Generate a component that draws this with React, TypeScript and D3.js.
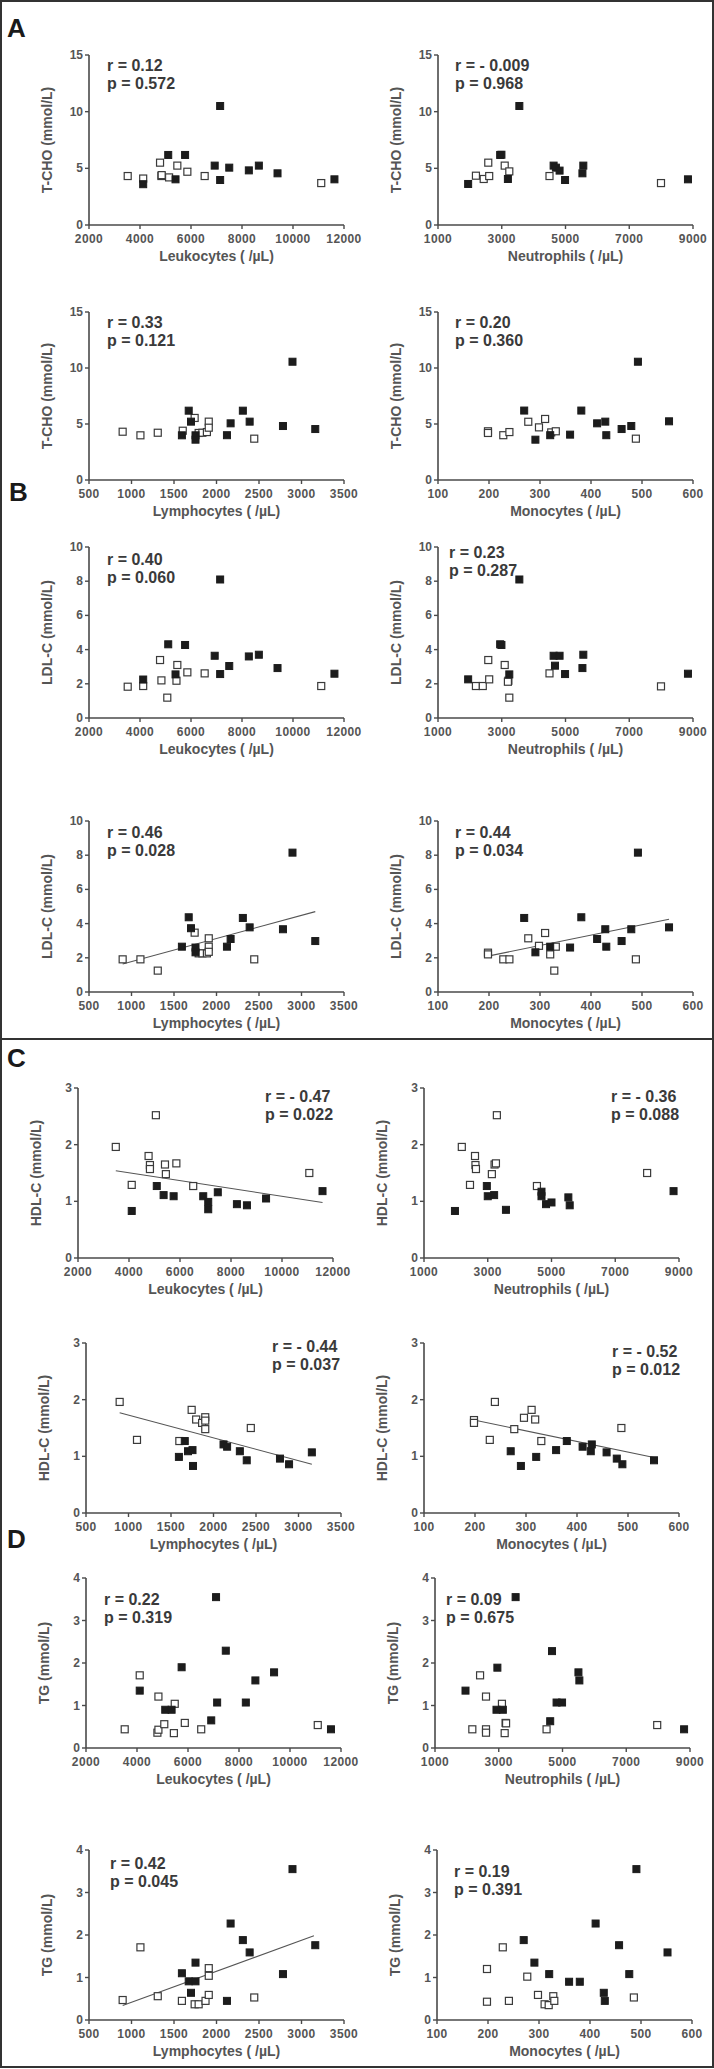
import React from "react";
import * as d3 from "d3";

// ---------- tick values ----------
const leukTicks = [2000, 4000, 6000, 8000, 10000, 12000];
const neutTicks = [1000, 3000, 5000, 7000, 9000];
const lymphTicks = [500, 1000, 1500, 2000, 2500, 3000, 3500];
const monoTicks = [100, 200, 300, 400, 500, 600];
const tchoTicks = [0, 5, 10, 15];
const ldlTicks = [0, 2, 4, 6, 8, 10];
const hdlTicks = [0, 1, 2, 3];
const tgTicks = [0, 1, 2, 3, 4];

// ---------- points: [x, y, filled(1) / open(0)] ----------
const tchoLeuk = [
  [3518, 4.32, 0], [4125, 4.1, 0], [4786, 5.5, 0], [4840, 4.32, 0], [5140, 4.2, 0], [5464, 5.24, 0],
  [5857, 4.7, 0], [6536, 4.32, 0], [11107, 3.7, 0], [4850, 4.4, 0],
  [4125, 3.6, 1], [5107, 6.18, 1], [5393, 4.03, 1], [5768, 6.18, 1], [6929, 5.24, 1], [7143, 10.5, 1],
  [7143, 3.97, 1], [7500, 5.06, 1], [8268, 4.82, 1], [8661, 5.24, 1], [9393, 4.56, 1], [11625, 4.03, 1],
];
const tchoNeut = [
  [2190, 4.35, 0], [2434, 4.06, 0], [2577, 5.5, 0], [2606, 4.32, 0], [3093, 5.24, 0], [3237, 4.73, 0],
  [4498, 4.32, 0], [7996, 3.7, 0],
  [1946, 3.62, 1], [2950, 6.18, 1], [2990, 6.2, 1], [3193, 4.06, 1], [3552, 10.5, 1], [4627, 5.24, 1],
  [4699, 5.06, 1], [4814, 4.8, 1], [4986, 3.97, 1], [5531, 4.56, 1], [5559, 5.24, 1], [8842, 4.03, 1],
];
const tchoLymph = [
  [896, 4.31, 0], [1105, 3.99, 0], [1309, 4.22, 0], [1603, 4.4, 0], [1743, 5.54, 0], [1790, 4.2, 0],
  [1834, 4.22, 0], [1887, 4.28, 0], [1909, 5.21, 0], [1909, 4.67, 0], [2444, 3.69, 0],
  [1593, 3.99, 1], [1673, 6.19, 1], [1700, 5.21, 1], [1753, 3.99, 1], [1753, 3.6, 1], [2123, 4.0, 1],
  [2166, 5.06, 1], [2310, 6.19, 1], [2390, 5.21, 1], [2782, 4.82, 1], [2894, 10.56, 1], [3162, 4.55, 1],
];
const tchoMono = [
  [198, 4.35, 0], [198, 4.2, 0], [228, 4.0, 0], [240, 4.28, 0], [277, 5.2, 0], [298, 4.7, 0],
  [310, 5.45, 0], [322, 4.25, 0], [331, 4.35, 0], [488, 3.69, 0],
  [269, 6.2, 1], [291, 3.6, 1], [320, 4.0, 1], [359, 4.05, 1], [381, 6.2, 1], [412, 5.06, 1],
  [428, 5.21, 1], [430, 4.0, 1], [460, 4.55, 1], [479, 4.82, 1], [492, 10.56, 1], [553, 5.24, 1],
];
const ldlLeuk = [
  [3518, 1.83, 0], [4125, 1.87, 0], [4786, 3.39, 0], [4840, 2.2, 0], [5070, 1.19, 0], [5464, 3.1, 0],
  [5430, 2.18, 0], [5857, 2.67, 0], [6536, 2.61, 0], [11107, 1.87, 0],
  [4125, 2.25, 1], [5107, 4.31, 1], [5393, 2.55, 1], [5768, 4.27, 1], [6929, 3.64, 1], [7143, 8.1, 1],
  [7143, 2.57, 1], [7500, 3.04, 1], [8268, 3.6, 1], [8661, 3.7, 1], [9393, 2.92, 1], [11625, 2.59, 1],
];
const ldlNeut = [
  [2190, 1.87, 0], [2405, 1.87, 0], [2577, 3.39, 0], [2606, 2.26, 0], [3093, 3.1, 0], [3208, 2.18, 0],
  [3237, 1.19, 0], [3193, 2.12, 0], [4498, 2.61, 0], [7996, 1.85, 0],
  [1946, 2.26, 1], [2950, 4.31, 1], [2990, 4.27, 1], [3237, 2.55, 1], [3552, 8.1, 1], [4627, 3.64, 1],
  [4670, 3.06, 1], [4814, 3.64, 1], [4986, 2.57, 1], [5531, 2.92, 1], [5559, 3.7, 1], [8842, 2.59, 1],
];
const ldlLymph = [
  [896, 1.91, 0], [1105, 1.91, 0], [1309, 1.25, 0], [1743, 3.47, 0], [1790, 2.26, 0], [1834, 2.26, 0],
  [1887, 2.26, 0], [1909, 3.14, 0], [1909, 2.65, 0], [1909, 2.35, 0], [2444, 1.91, 0],
  [1593, 2.65, 1], [1673, 4.37, 1], [1700, 3.73, 1], [1753, 2.6, 1], [1753, 2.32, 1], [2123, 2.65, 1],
  [2166, 3.1, 1], [2310, 4.33, 1], [2390, 3.78, 1], [2782, 3.67, 1], [2894, 8.15, 1], [3162, 2.98, 1],
];
const ldlMono = [
  [198, 2.3, 0], [198, 2.2, 0], [228, 1.91, 0], [240, 1.91, 0], [277, 3.14, 0], [298, 2.7, 0],
  [310, 3.45, 0], [320, 2.2, 0], [331, 2.65, 0], [328, 1.25, 0], [488, 1.91, 0],
  [269, 4.33, 1], [291, 2.32, 1], [320, 2.65, 1], [359, 2.6, 1], [381, 4.37, 1], [412, 3.1, 1],
  [428, 3.67, 1], [430, 2.65, 1], [460, 2.98, 1], [479, 3.67, 1], [492, 8.15, 1], [553, 3.78, 1],
];
const hdlLeuk = [
  [3482, 1.96, 0], [5054, 2.52, 0], [4768, 1.8, 0], [4821, 1.64, 0], [4821, 1.57, 0], [5411, 1.65, 0],
  [5857, 1.67, 0], [5446, 1.48, 0], [4107, 1.29, 0], [6518, 1.27, 0], [11071, 1.5, 0],
  [4107, 0.83, 1], [5089, 1.27, 1], [5357, 1.11, 1], [5750, 1.09, 1], [6911, 1.09, 1], [7107, 0.99, 1],
  [7107, 0.86, 1], [7482, 1.16, 1], [8232, 0.95, 1], [8625, 0.93, 1], [9375, 1.05, 1], [11589, 1.18, 1],
];
const hdlNeut = [
  [2186, 1.96, 0], [3286, 2.52, 0], [2600, 1.8, 0], [2614, 1.64, 0], [2630, 1.57, 0], [3214, 1.65, 0],
  [3257, 1.67, 0], [3129, 1.48, 0], [2443, 1.29, 0], [4543, 1.27, 0], [8000, 1.5, 0],
  [1971, 0.83, 1], [2971, 1.27, 1], [3000, 1.09, 1], [3200, 1.11, 1], [3571, 0.85, 1], [4686, 1.17, 1],
  [4686, 1.09, 1], [4829, 0.95, 1], [5000, 0.98, 1], [5529, 1.07, 1], [5571, 0.93, 1], [8829, 1.18, 1],
];
const hdlLymph = [
  [896, 1.96, 0], [1100, 1.29, 0], [1743, 1.82, 0], [1796, 1.65, 0], [1866, 1.59, 0], [1903, 1.69, 0],
  [1903, 1.63, 0], [1903, 1.48, 0], [1598, 1.27, 0], [2439, 1.5, 0],
  [1662, 1.27, 1], [1593, 0.99, 1], [1700, 1.09, 1], [1753, 1.11, 1], [1759, 0.83, 1], [2118, 1.21, 1],
  [2160, 1.17, 1], [2310, 1.09, 1], [2391, 0.93, 1], [2782, 0.96, 1], [2889, 0.86, 1], [3157, 1.07, 1],
];
const hdlMono = [
  [198, 1.64, 0], [198, 1.59, 0], [239, 1.96, 0], [229, 1.29, 0], [277, 1.48, 0], [296, 1.68, 0],
  [311, 1.82, 0], [318, 1.65, 0], [330, 1.27, 0], [487, 1.5, 0],
  [270, 1.09, 1], [290, 0.83, 1], [320, 0.99, 1], [359, 1.11, 1], [380, 1.27, 1], [411, 1.17, 1],
  [427, 1.09, 1], [429, 1.21, 1], [458, 1.07, 1], [478, 0.96, 1], [489, 0.86, 1], [551, 0.93, 1],
];
const tgLeuk = [
  [3518, 0.44, 0], [4107, 1.71, 0], [4840, 1.21, 0], [4800, 0.36, 0], [4840, 0.43, 0], [5070, 0.56, 0],
  [5480, 1.04, 0], [5446, 0.35, 0], [5875, 0.59, 0], [6518, 0.44, 0], [11089, 0.54, 0],
  [4107, 1.35, 1], [5107, 0.9, 1], [5357, 0.9, 1], [5750, 1.9, 1], [6911, 0.65, 1], [7143, 1.07, 1],
  [7482, 2.29, 1], [8268, 1.07, 1], [8643, 1.59, 1], [9375, 1.78, 1], [11607, 0.44, 1], [7100, 3.55, 1],
];
const tgNeut = [
  [2171, 0.44, 0], [2414, 1.71, 0], [2600, 1.21, 0], [2600, 0.44, 0], [2600, 0.36, 0], [3100, 1.04, 0],
  [3214, 0.59, 0], [3230, 0.58, 0], [3186, 0.35, 0], [4500, 0.44, 0], [7971, 0.54, 0],
  [1957, 1.35, 1], [2957, 1.89, 1], [2929, 0.9, 1], [3129, 0.9, 1], [4671, 2.28, 1], [4614, 0.63, 1],
  [4814, 1.07, 1], [4986, 1.07, 1], [5500, 1.78, 1], [5529, 1.59, 1], [8814, 0.44, 1], [3529, 3.55, 1],
];
const tgLymph = [
  [896, 0.47, 0], [1105, 1.71, 0], [1309, 0.56, 0], [1593, 0.45, 0], [1743, 0.37, 0], [1790, 0.37, 0],
  [1871, 0.45, 0], [1909, 0.59, 0], [1909, 1.22, 0], [1909, 1.04, 0], [2444, 0.53, 0],
  [1593, 1.1, 1], [1673, 0.91, 1], [1753, 0.91, 1], [1700, 0.64, 1], [1753, 1.35, 1], [2123, 0.45, 1],
  [2166, 2.27, 1], [2310, 1.88, 1], [2390, 1.59, 1], [2782, 1.08, 1], [2894, 3.55, 1], [3162, 1.76, 1],
];
const tgMono = [
  [198, 0.43, 0], [198, 1.2, 0], [229, 1.71, 0], [241, 0.45, 0], [277, 1.02, 0], [298, 0.59, 0],
  [311, 0.37, 0], [319, 0.35, 0], [328, 0.56, 0], [330, 0.45, 0], [486, 0.53, 0],
  [270, 1.88, 1], [291, 1.35, 1], [320, 1.08, 1], [359, 0.9, 1], [380, 0.9, 1], [411, 2.27, 1],
  [427, 0.64, 1], [429, 0.45, 1], [457, 1.76, 1], [477, 1.08, 1], [491, 3.55, 1], [552, 1.59, 1],
];

// ---------- regression lines: [[x0, y0], [x1, y1]] ----------
const ldlLymphFit = [[896, 1.64], [3162, 4.7]];
const ldlMonoFit = [[198, 2.1], [553, 4.25]];
const hdlLeukFit = [[3482, 1.54], [11589, 0.98]];
const hdlLymphFit = [[896, 1.77], [3157, 0.86]];
const hdlMonoFit = [[198, 1.64], [551, 0.98]];
const tgLymphFit = [[896, 0.34], [3146, 1.98]];

// ---------- statistics ----------
const rLabels = ["0.12", "- 0.009", "0.33", "0.20", "0.40", "0.23", "0.46", "0.44",
  "- 0.47", "- 0.36", "- 0.44", "- 0.52", "0.22", "0.09", "0.42", "0.19"];
const pLabels = ["0.572", "0.968", "0.121", "0.360", "0.060", "0.287", "0.028", "0.034",
  "0.022", "0.088", "0.037", "0.012", "0.319", "0.675", "0.045", "0.391"];

const sectionLabels = ["A", "B", "C", "D"];

// ---------- layout ----------
const W = 714;
const H = 2069;
const PW = 255;
const rows = [
  { top: 55, zero: 225, lx: 89, rx: 438 },
  { top: 312, zero: 480, lx: 89, rx: 438 },
  { top: 547, zero: 718, lx: 89, rx: 438 },
  { top: 821, zero: 992, lx: 89, rx: 438 },
  { top: 1088, zero: 1258, lx: 78, rx: 424 },
  { top: 1343, zero: 1513, lx: 86, rx: 424 },
  { top: 1578, zero: 1748, lx: 86, rx: 435 },
  { top: 1850, zero: 2020, lx: 89, rx: 437 },
];
const annotPos = [
  [107, 71], [455, 71], [107, 328], [455, 328], [107, 565], [449, 558], [107, 838], [455, 838],
  [265, 1102], [611, 1102], [272, 1352], [612, 1357], [104, 1605], [446, 1605], [110, 1869], [454, 1877],
];
const sectionPos = [[7, 37], [9, 501], [7, 1067], [7, 1548]];

const xVars = [
  { label: "Leukocytes ( /µL)", domain: [2000, 12000], ticks: leukTicks },
  { label: "Neutrophils ( /µL)", domain: [1000, 9000], ticks: neutTicks },
  { label: "Lymphocytes ( /µL)", domain: [500, 3500], ticks: lymphTicks },
  { label: "Monocytes ( /µL)", domain: [100, 600], ticks: monoTicks },
];
const yVars = [
  { label: "T-CHO  (mmol/L)", domain: [0, 15], ticks: tchoTicks },
  { label: "LDL-C  (mmol/L)", domain: [0, 10], ticks: ldlTicks },
  { label: "HDL-C  (mmol/L)", domain: [0, 3], ticks: hdlTicks },
  { label: "TG  (mmol/L)", domain: [0, 4], ticks: tgTicks },
];

const panelData = [
  tchoLeuk, tchoNeut, tchoLymph, tchoMono,
  ldlLeuk, ldlNeut, ldlLymph, ldlMono,
  hdlLeuk, hdlNeut, hdlLymph, hdlMono,
  tgLeuk, tgNeut, tgLymph, tgMono,
];
const panelFits = [
  null, null, null, null,
  null, null, ldlLymphFit, ldlMonoFit,
  hdlLeukFit, null, hdlLymphFit, hdlMonoFit,
  null, null, tgLymphFit, null,
];

const FONT = "'Liberation Sans', Arial, Helvetica, sans-serif";
const AXIS = "#4a4a4a";
const TEXT = "#3a3a3a";

function Panel({ idx }) {
  const rowIdx = Math.floor(idx / 2);
  const col = idx % 2;
  const row = rows[rowIdx];
  const x0 = col === 0 ? row.lx : row.rx;
  const xv = xVars[(rowIdx % 2) * 2 + col];
  const yv = yVars[Math.floor(rowIdx / 2)];
  const xs = d3.scaleLinear().domain(xv.domain).range([x0, x0 + PW]);
  const ys = d3.scaleLinear().domain(yv.domain).range([row.zero, row.top]);
  const pts = panelData[idx];
  const fit = panelFits[idx];
  const [ax, ay] = annotPos[idx];
  const s = 7;
  const ordered = [...pts].sort((a, b) => a[2] - b[2]);
  return (
    <g>
      {/* y axis */}
      <line x1={x0} x2={x0} y1={row.top} y2={row.zero} stroke={AXIS} strokeWidth={1.6} />
      {yv.ticks.map((t) => (
        <g key={"y" + t}>
          <line x1={x0 - 4} x2={x0} y1={ys(t)} y2={ys(t)} stroke={AXIS} strokeWidth={1.4} />
          <text x={x0 - 6} y={ys(t) + 4} textAnchor="end" fontSize={12} fontWeight="bold"
            fill="#555" fontFamily={FONT}>{t}</text>
        </g>
      ))}
      {/* x axis */}
      <line x1={x0} x2={x0 + PW} y1={row.zero} y2={row.zero} stroke={AXIS} strokeWidth={1.6} />
      {xv.ticks.map((t) => (
        <g key={"x" + t}>
          <line x1={xs(t)} x2={xs(t)} y1={row.zero} y2={row.zero + 4} stroke={AXIS} strokeWidth={1.4} />
          <text x={xs(t)} y={row.zero + 18} textAnchor="middle" fontSize={12} fontWeight="bold"
            letterSpacing={0.4} fill="#555" fontFamily={FONT}>{t}</text>
        </g>
      ))}
      <text x={x0 + PW / 2} y={row.zero + 36} textAnchor="middle" fontSize={14} fontWeight="bold"
        fill="#555" fontFamily={FONT}>{xv.label}</text>
      <text transform={`translate(${x0 - 37},${(row.top + row.zero) / 2}) rotate(-90)`}
        textAnchor="middle" fontSize={14} fontWeight="bold" fill="#555" fontFamily={FONT}>{yv.label}</text>
      {/* fit line */}
      {fit && (
        <line x1={xs(fit[0][0])} y1={ys(fit[0][1])} x2={xs(fit[1][0])} y2={ys(fit[1][1])}
          stroke="#555" strokeWidth={1.1} />
      )}
      {/* points */}
      {ordered.map((p, i) => (
        <rect key={i} x={xs(p[0]) - s / 2} y={ys(p[1]) - s / 2} width={s} height={s}
          fill={p[2] ? "#1c1c1c" : "#fff"} stroke={p[2] ? "#1c1c1c" : "#3a3a3a"}
          strokeWidth={p[2] ? 1 : 1.2} />
      ))}
      {/* annotation */}
      <text x={ax} y={ay} fontSize={16} fill={TEXT} fontFamily={FONT} fontWeight="bold">
        {"r = " + rLabels[idx]}
      </text>
      <text x={ax} y={ay + 18} fontSize={16} fill={TEXT} fontFamily={FONT} fontWeight="bold">
        {"p = " + pLabels[idx]}
      </text>
    </g>
  );
}

export default function App() {
  return (
    <svg width={W} height={H} style={{ position: "absolute", left: 0, top: 0, background: "#fff" }}
      xmlns="http://www.w3.org/2000/svg">
      <rect x={0} y={0} width={W} height={H} fill="#fff" />
      <rect x={1} y={1} width={W - 2} height={H - 3} fill="none" stroke="#333" strokeWidth={2} />
      <line x1={0} x2={W} y1={1039} y2={1039} stroke="#333" strokeWidth={2} />
      {sectionLabels.map((l, i) => (
        <text key={l} x={sectionPos[i][0]} y={sectionPos[i][1]} fontSize={26} fontWeight="bold"
          fill="#1a1a1a" fontFamily={FONT}>{l}</text>
      ))}
      {panelData.map((_, i) => (
        <Panel key={i} idx={i} />
      ))}
    </svg>
  );
}
